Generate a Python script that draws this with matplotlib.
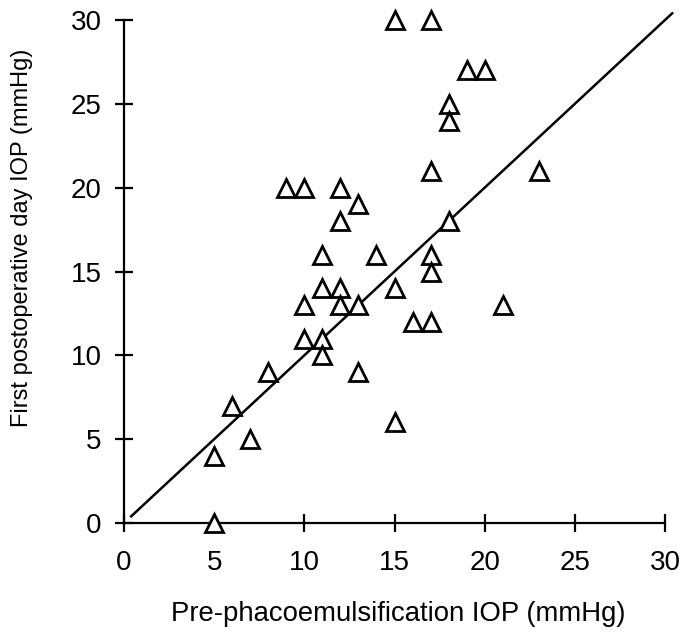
import matplotlib
matplotlib.use("Agg")
import matplotlib.pyplot as plt
import numpy as np

plt.rcParams['font.family'] = ['Liberation Sans', 'DejaVu Sans']

# Pre-phacoemulsification IOP vs first postoperative day IOP (mmHg)
pre_iop = [5, 5, 6, 7, 8, 9, 10, 10, 10, 11, 11, 11, 11, 12, 12, 12, 12,
           13, 13, 13, 14, 15, 15, 15, 16, 17, 17, 17, 17, 17, 18, 18, 18,
           19, 20, 21, 23]
post_iop = [4, 0, 7, 5, 9, 20, 20, 13, 11, 11, 10, 16, 14, 20, 18, 14, 13,
            19, 13, 9, 16, 30, 14, 6, 12, 12, 30, 21, 16, 15, 25, 24, 18,
            27, 27, 13, 21]

# line of equality
line_x = [0.4, 30.4]
line_y = [0.4, 30.4]

ticks = [0, 5, 10, 15, 20, 25, 30]

fig = plt.figure(figsize=(6.82, 6.37), dpi=100)
ax = fig.add_axes([124 / 682, 1 - 523 / 637, 541 / 682, 503 / 637])

ax.plot(line_x, line_y, color='black', lw=1.8, clip_on=False, zorder=2)
ax.plot(pre_iop, post_iop, linestyle='none', marker='^', markersize=12.5,
        markerfacecolor='white', markeredgecolor='black', markeredgewidth=2.0,
        clip_on=False, zorder=3)

ax.set_xlim(0, 30)
ax.set_ylim(0, 30)
ax.set_xticks(ticks)
ax.set_yticks(ticks)

for side in ['top', 'right']:
    ax.spines[side].set_visible(False)
for side in ['left', 'bottom']:
    ax.spines[side].set_linewidth(1.6)

ax.tick_params(axis='both', direction='inout', length=12.5, width=1.6,
               labelsize=20, colors='black')
ax.tick_params(axis='x', pad=13)
ax.tick_params(axis='y', pad=10)

fig.text(398 / 682, 1 - 621 / 637, 'Pre-phacoemulsification IOP (mmHg)',
         ha='center', va='baseline', fontsize=19.8)
fig.text(22 / 682, 1 - 238 / 637, 'First postoperative day IOP (mmHg)',
         ha='center', va='center', rotation=90, fontsize=17)

fig.savefig('out.png', dpi=100)
